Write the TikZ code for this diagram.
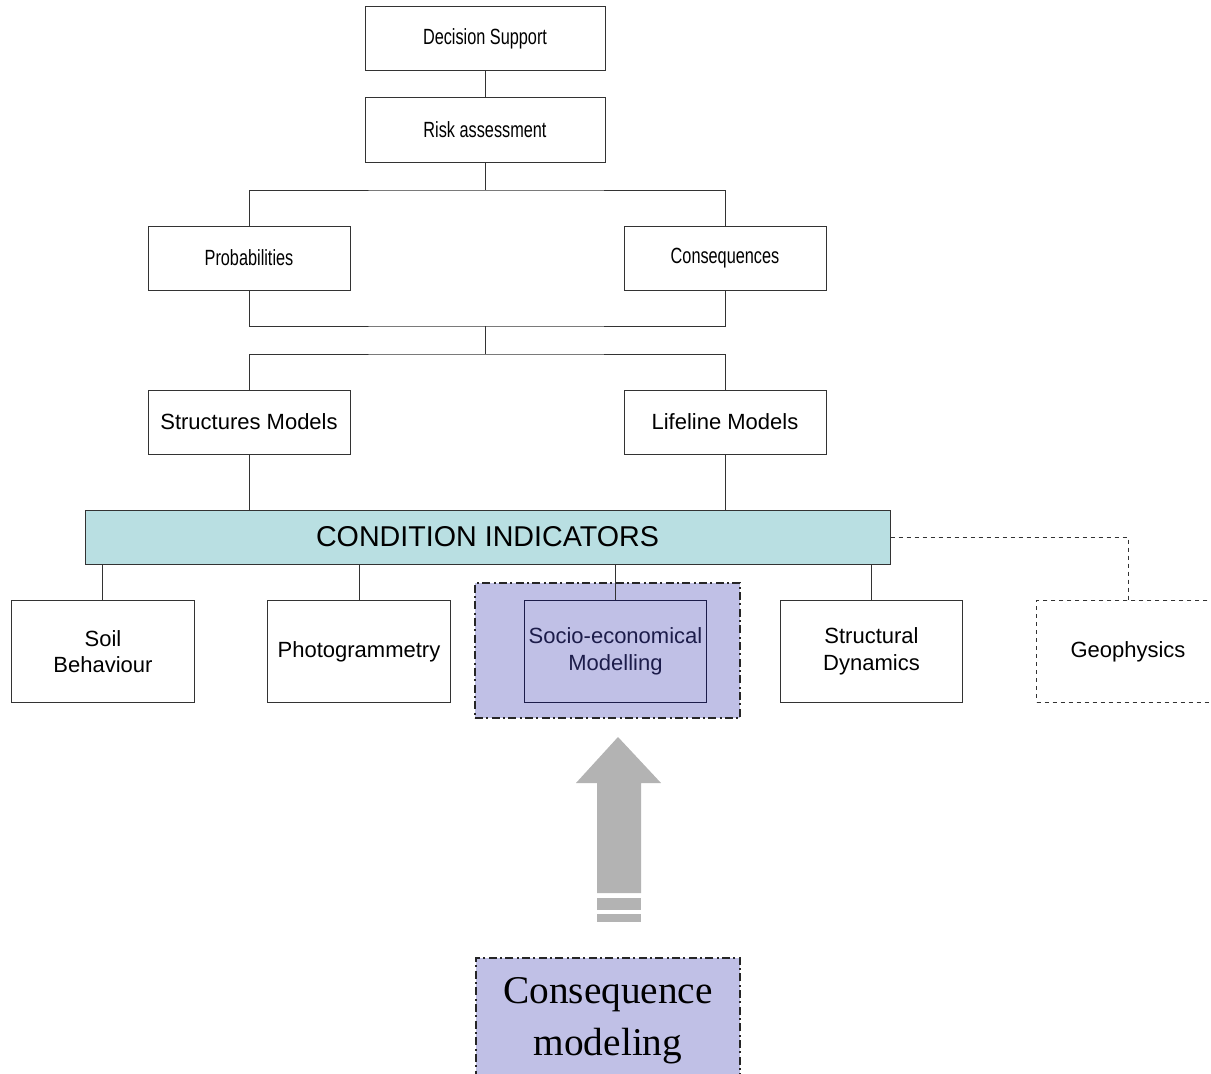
\documentclass[tikz,border=0pt]{standalone}
\usepackage{fontspec}
\setmainfont{Liberation Sans}
\newfontfamily\serifcm{Liberation Serif}
\usepackage{graphicx}
\usetikzlibrary{positioning,calc}

\definecolor{indfill}{HTML}{B9DFE2}
\definecolor{lavfill}{HTML}{C0C0E6}
\definecolor{navyline}{HTML}{1C1C4A}
\definecolor{arrowgray}{HTML}{B3B3B3}

\newcommand{\narrowtxt}[1]{\scalebox{0.74}[1]{#1}}

\begin{document}
\begin{tikzpicture}[
  x=0.75pt, y=-0.75pt,
  every node/.style={font=\fontsize{16.5}{20}\selectfont},
  box/.style={draw=black!80, line width=0.75pt, align=center, inner sep=0pt},
  topbox/.style={box, minimum width=180pt, minimum height=48pt},
  midbox/.style={box, minimum width=151.5pt, minimum height=48pt},
  lowbox/.style={box, minimum width=137pt, minimum height=76pt},
  groupbox/.style={fill=lavfill, draw=black!85, line width=1.3pt,
                   dash pattern=on 6pt off 2.5pt on 1.5pt off 2.5pt,
                   inner sep=0pt, align=center},
  link/.style={draw=black!80, line width=0.75pt},
]
\useasboundingbox (0,0) rectangle (1211,1074);

% top of the tree
\node[topbox] (ds) at (485,39) {\narrowtxt{Decision Support}};
\node[topbox] (ra) at (485,130) {\narrowtxt{Risk assessment}};
\node[midbox] (prob) at (249,258) {\narrowtxt{Probabilities}};
\node[midbox] (cons) at (725,258) {\narrowtxt{Consequences}};
\node[midbox] (smod) at (249,422) {Structures Models};
\node[midbox] (lmod) at (725,422) {Lifeline Models};

% indicators bar
\node[box, fill=indfill, minimum width=603.75pt, minimum height=40.5pt,
      font=\fontsize{21.5}{24}\selectfont] (ci) at (487.5,537)
  {CONDITION INDICATORS};

% socio-economical group (behind)
\node[groupbox, minimum width=199pt, minimum height=101pt] (grp) at (607.5,650.5) {};

\node[lowbox] (soil) at (103,651.5) {Soil\\Behaviour};
\node[lowbox] (photo) at (359,651.5) {Photogrammetry};
\node[lowbox, draw=navyline, fill=lavfill, text=navyline] (socio) at (615.5,651.5)
  {Socio-economical\\Modelling};
\node[lowbox] (sdyn) at (871.5,651.5) {Structural\\Dynamics};
\node[lowbox, dashed] (geo) at (1128,651.5) {Geophysics};

% consequence modeling box
\node[groupbox, minimum width=198pt, minimum height=94.5pt,
      font=\serifcm\fontsize{29.5}{39}\selectfont] (cmod) at (608,1021)
  {Consequence\\modeling};

% junctions
\coordinate (j1) at (485,190);
\coordinate (j2) at (485,326);
\coordinate (j3) at (485,354);

\draw[link] (ds) -- (ra);
\draw[link] (ra) -- (j1);
\draw[link] (prob.north) |- (j1) -| (cons.north);
\draw[link] (prob.south) |- (j2) -| (cons.south);
\draw[link] (j2) -- (j3);
\draw[link] (smod.north) |- (j3) -| (lmod.north);
\draw[link] (smod) -- (smod |- ci.north);
\draw[link] (lmod) -- (lmod |- ci.north);

\draw[link] (soil.north -| 102,0) -- (102,0 |- ci.south);
\draw[link] (photo) -- (photo |- ci.south);
\draw[link] (socio) -- (socio |- ci.south);
\draw[link] (sdyn) -- (sdyn |- ci.south);
\draw[link, dashed] (ci.east) -| (geo.north);

% block arrow
\fill[arrowgray] (597,893) -- (597,783) -- (576,783) -- (618,737)
  -- (661,783) -- (641,783) -- (641,893) -- cycle;
\fill[arrowgray] (597,898) rectangle (641,910);
\fill[arrowgray] (597,914) rectangle (641,922);
\end{tikzpicture}
\end{document}
